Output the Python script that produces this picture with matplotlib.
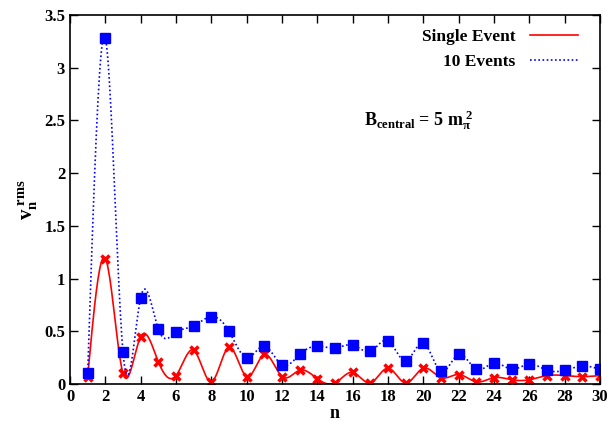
import numpy as np
import matplotlib
matplotlib.use('Agg')
import matplotlib.pyplot as plt

# 数据
n = np.arange(1, 31)
single_event = [0.07, 1.19, 0.10, 0.45, 0.21, 0.08, 0.32, 0.02, 0.35, 0.07,
                0.28, 0.07, 0.13, 0.05, 0.01, 0.11, 0.01, 0.15, 0.01, 0.15,
                0.06, 0.09, 0.02, 0.06, 0.04, 0.04, 0.08, 0.08, 0.07, 0.08]
ten_events = [0.10, 3.28, 0.30, 0.82, 0.52, 0.49, 0.55, 0.64, 0.50, 0.25,
              0.36, 0.18, 0.28, 0.36, 0.34, 0.37, 0.31, 0.41, 0.22, 0.39,
              0.12, 0.28, 0.14, 0.20, 0.14, 0.19, 0.13, 0.13, 0.17, 0.14]
x_ticks = list(range(0, 31, 2))
y_ticks = [0, 0.5, 1, 1.5, 2, 2.5, 3, 3.5]


def natural_spline(x, y, num=600):
    # 自然三次样条 (类似 gnuplot 的 smooth csplines)
    x = np.asarray(x, float)
    y = np.asarray(y, float)
    k = len(x)
    h = np.diff(x)
    A = np.zeros((k, k))
    b = np.zeros(k)
    A[0, 0] = A[-1, -1] = 1
    for i in range(1, k - 1):
        A[i, i - 1] = h[i - 1]
        A[i, i] = 2 * (h[i - 1] + h[i])
        A[i, i + 1] = h[i]
        b[i] = 6 * ((y[i + 1] - y[i]) / h[i] - (y[i] - y[i - 1]) / h[i - 1])
    m = np.linalg.solve(A, b)
    xs = np.linspace(x[0], x[-1], num)
    idx = np.clip(np.searchsorted(x, xs) - 1, 0, k - 2)
    x0, x1 = x[idx], x[idx + 1]
    hh = x1 - x0
    t0, t1 = x1 - xs, xs - x0
    ys = (m[idx] * t0**3 + m[idx + 1] * t1**3) / (6 * hh) \
        + (y[idx] / hh - m[idx] * hh / 6) * t0 \
        + (y[idx + 1] / hh - m[idx + 1] * hh / 6) * t1
    return xs, ys


plt.rcParams['font.family'] = ['Liberation Serif', 'DejaVu Serif']
plt.rcParams['font.weight'] = 'bold'
plt.rcParams['mathtext.fontset'] = 'custom'
plt.rcParams['mathtext.rm'] = 'Liberation Serif:bold'
plt.rcParams['mathtext.it'] = 'Liberation Serif:bold'
plt.rcParams['mathtext.bf'] = 'Liberation Serif:bold'

fig = plt.figure(figsize=(6.11, 4.30), dpi=100)
ax = fig.add_axes([0.1146, 0.107, 0.8674, 0.858])

xs, ys = natural_spline(n, single_event)
ax.plot(xs, ys, color='#ff0000', lw=1.2, label='Single Event')
ax.plot(n, single_event, ls='none', marker='x', color='#ff0000',
        ms=5.5, mew=2.5)

xs, ys = natural_spline(n, ten_events)
ax.plot(xs, ys, color='#0000ff', lw=1.2, ls=(0, (1, 1.5)), label='10 Events')
ax.plot(n, ten_events, ls='none', marker='s', color='#0000ff', ms=7)

ax.set_xlim(0, 30)
ax.set_ylim(0, 3.5)
ax.set_xticks(x_ticks)
ax.set_yticks(y_ticks)
ax.set_yticklabels(['0', '0.5', '1', '1.5', '2', '2.5', '3', '3.5'])
ax.tick_params(direction='in', top=True, right=True, length=6, width=1,
               labelsize=12)
for s in ax.spines.values():
    s.set_linewidth(1.2)

ax.set_xlabel('n', fontsize=13, fontweight='bold', labelpad=0)
ax.set_ylabel(r'$\mathrm{v_n^{\ rms}}$', fontsize=15, labelpad=4)

ax.text(0.555, 0.70, r'$\mathrm{B_{central}}$ = 5 $\mathrm{m_{\pi}^{\ 2}}$',
        transform=ax.transAxes, fontsize=13, fontweight='bold')

leg = ax.legend(loc='upper right', frameon=False, fontsize=12.5,
                markerfirst=False, handlelength=2.8, borderaxespad=0,
                bbox_to_anchor=(0.972, 0.981), labelspacing=0.5)
for t in leg.get_texts():
    t.set_fontweight('bold')

fig.savefig('out.png', dpi=100)
